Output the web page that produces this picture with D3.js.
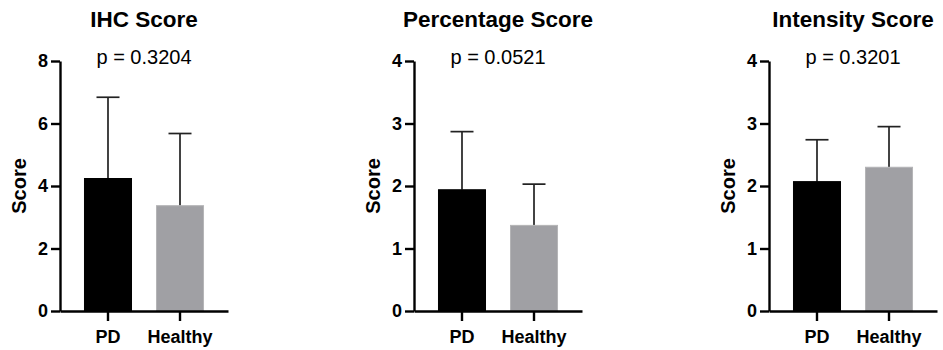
<!DOCTYPE html>
<html>
<head>
<meta charset="utf-8">
<script src="https://cdn.jsdelivr.net/npm/d3@7"></script>
<style>
  body { margin: 0; background: #fff; }
  text { font-family: "Liberation Sans", Arial, sans-serif; }
</style>
</head>
<body>
<svg id="chart" width="943" height="350"></svg>
<script>
// Groups on the x axis
const groups = ["PD", "Healthy"];

// Panel titles and p values
const titles = ["IHC Score", "Percentage Score", "Intensity Score"];
const pValues = ["p = 0.3204", "p = 0.0521", "p = 0.3201"];

// Means and SD (upper error bar)
const ihcMean = [4.24, 3.37];
const ihcSD = [2.60, 2.31];
const percentMean = [1.94, 1.37];
const percentSD = [0.93, 0.66];
const intensityMean = [2.07, 2.30];
const intensitySD = [0.67, 0.65];

// Y axis ranges and tick values
const yMax = [8, 4, 4];
const yTicks = [[0, 2, 4, 6, 8], [0, 1, 2, 3, 4], [0, 1, 2, 3, 4]];

const means = [ihcMean, percentMean, intensityMean];
const sds = [ihcSD, percentSD, intensitySD];

const barColors = ["#000000", "#a0a0a4"];

const svg = d3.select("#chart");

// left edge (y axis position) of each panel
const panelX = [60, 414, 769];
const plotW = 168;
const plotTop = 61;
const plotBottom = 311;

titles.forEach(function (title, i) {
    const g = svg.append("g")
        .attr("transform", "translate(" + panelX[i] + ",0)");

    const x = d3.scaleBand()
        .domain(groups)
        .range([0, plotW])
        .paddingInner(0.347)
        .paddingOuter(0.34);

    const y = d3.scaleLinear()
        .domain([0, yMax[i]])
        .range([plotBottom, plotTop]);

    const data = groups.map((grp, j) => ({ group: grp, mean: means[i][j], sd: sds[i][j], color: barColors[j] }));

    // error bars (upper only)
    g.selectAll(".err")
        .data(data)
        .enter()
        .append("line")
        .attr("x1", d => x(d.group) + x.bandwidth() / 2)
        .attr("x2", d => x(d.group) + x.bandwidth() / 2)
        .attr("y1", d => y(d.mean))
        .attr("y2", d => y(d.mean + d.sd))
        .attr("stroke", "#222")
        .attr("stroke-width", 1.7);

    g.selectAll(".cap")
        .data(data)
        .enter()
        .append("line")
        .attr("x1", d => x(d.group) + x.bandwidth() / 2 - 11.5)
        .attr("x2", d => x(d.group) + x.bandwidth() / 2 + 11.5)
        .attr("y1", d => y(d.mean + d.sd))
        .attr("y2", d => y(d.mean + d.sd))
        .attr("stroke", "#222")
        .attr("stroke-width", 1.7);

    // bars
    g.selectAll(".bar")
        .data(data)
        .enter()
        .append("rect")
        .attr("x", d => x(d.group))
        .attr("y", d => y(d.mean))
        .attr("width", x.bandwidth())
        .attr("height", d => y(0) - y(d.mean))
        .attr("fill", d => d.color)
        .attr("stroke", (d, j) => j === 0 ? "#000" : "#b4b4b6")
        .attr("stroke-width", 1);

    // y axis
    const yAxis = g.append("g")
        .call(d3.axisLeft(y).tickValues(yTicks[i]).tickSize(9).tickSizeOuter(0).tickPadding(3).tickFormat(d3.format("d")));
    yAxis.selectAll("text")
        .style("font-size", "18px")
        .style("font-weight", "bold")
        .attr("fill", "#000");

    // x axis
    const xAxis = g.append("g")
        .attr("transform", "translate(0," + plotBottom + ")")
        .call(d3.axisBottom(x).tickSize(10).tickSizeOuter(0).tickPadding(9));
    xAxis.selectAll("text")
        .style("font-size", "18px")
        .style("font-weight", "bold")
        .attr("fill", "#000");

    g.selectAll(".domain, .tick line")
        .attr("stroke", "#000")
        .attr("stroke-width", 2.4);

    // title
    g.append("text")
        .attr("x", plotW / 2)
        .attr("y", 27)
        .attr("text-anchor", "middle")
        .style("font-size", "22.5px")
        .style("font-weight", "bold")
        .text(title);

    // p value
    g.append("text")
        .attr("x", plotW / 2)
        .attr("y", 64)
        .attr("text-anchor", "middle")
        .style("font-size", "20px")
        .text(pValues[i]);

    // y label
    g.append("text")
        .attr("transform", "translate(-34," + ((plotTop + plotBottom) / 2) + ") rotate(-90)")
        .attr("text-anchor", "middle")
        .style("font-size", "20px")
        .style("font-weight", "bold")
        .text("Score");
});
</script>
</body>
</html>
